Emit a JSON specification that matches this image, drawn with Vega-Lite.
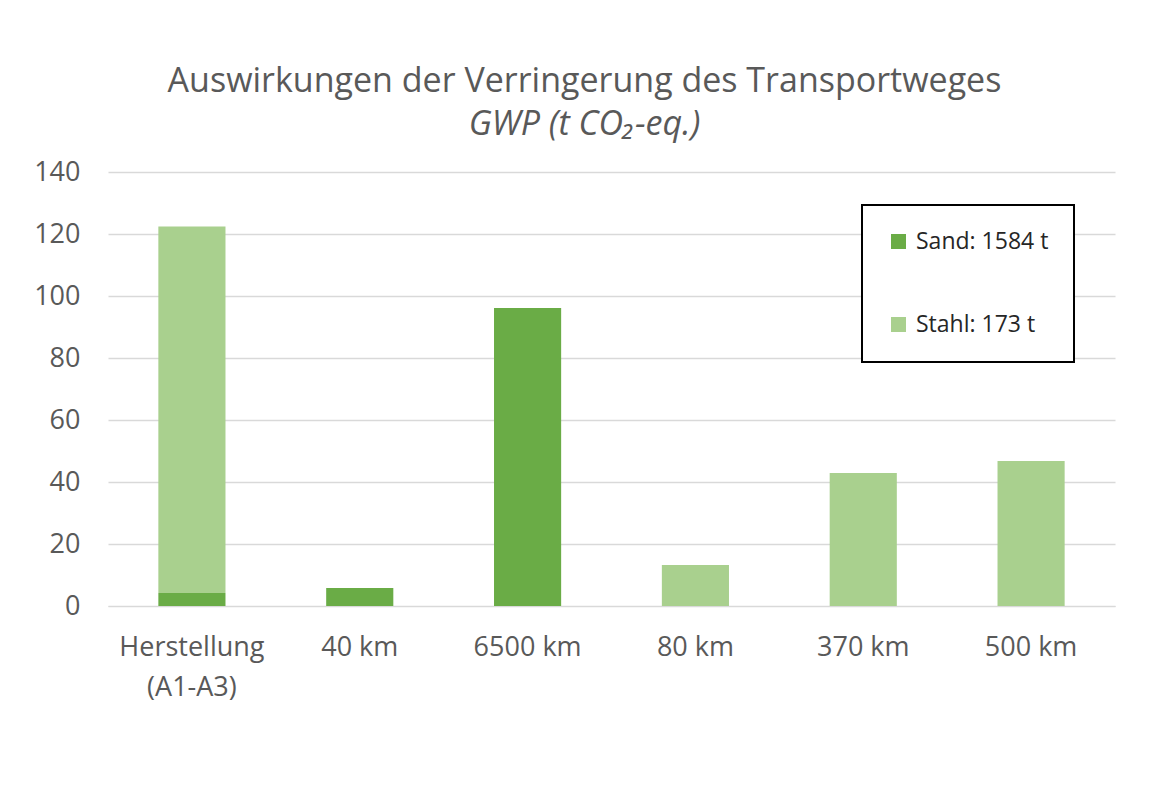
{
  "$schema": "https://vega.github.io/schema/vega-lite/v6.json",
  "autosize": {"type": "none"},
  "width": 1007,
  "height": 434,
  "padding": {"left": 108, "top": 172, "right": 34, "bottom": 192},
  "background": "white",
  "title": {
    "text": "Auswirkungen der Verringerung des Transportweges",
    "subtitle": "GWP (t CO₂-eq.)",
    "anchor": "middle",
    "dx": -27,
    "offset": 16,
    "font": "Open Sans",
    "fontSize": 34,
    "fontWeight": "normal",
    "color": "#595959",
    "subtitleFont": "Open Sans",
    "subtitleFontSize": 34,
    "subtitleFontStyle": "italic",
    "subtitleColor": "#595959",
    "subtitlePadding": 9
  },
  "data": {
    "values": [
      {"kategorie": "Herstellung (A1-A3)", "serie": "Sand: 1584 t", "wert": 4.2},
      {"kategorie": "Herstellung (A1-A3)", "serie": "Stahl: 173 t", "wert": 118.2},
      {"kategorie": "40 km", "serie": "Sand: 1584 t", "wert": 5.8},
      {"kategorie": "6500 km", "serie": "Sand: 1584 t", "wert": 96.1},
      {"kategorie": "80 km", "serie": "Stahl: 173 t", "wert": 13.2},
      {"kategorie": "370 km", "serie": "Stahl: 173 t", "wert": 42.9},
      {"kategorie": "500 km", "serie": "Stahl: 173 t", "wert": 46.8}
    ]
  },
  "mark": {"type": "bar"},
  "encoding": {
    "x": {
      "field": "kategorie",
      "type": "nominal",
      "sort": ["Herstellung (A1-A3)", "40 km", "6500 km", "80 km", "370 km", "500 km"],
      "scale": {"paddingInner": 0.6, "paddingOuter": 0.3},
      "axis": {
        "title": null,
        "labelAngle": 0,
        "labelFont": "Open Sans",
        "labelFontSize": 27,
        "labelColor": "#595959",
        "labelPadding": 28,
        "labelLineHeight": 40,
        "ticks": false,
        "domain": true,
        "domainColor": "#d9d9d9",
        "labelExpr": "datum.label == 'Herstellung (A1-A3)' ? ['Herstellung', '(A1-A3)'] : datum.label"
      }
    },
    "y": {
      "field": "wert",
      "type": "quantitative",
      "stack": "zero",
      "scale": {"domain": [0, 140]},
      "axis": {
        "title": null,
        "values": [0, 20, 40, 60, 80, 100, 120, 140],
        "labelFont": "Open Sans",
        "labelFontSize": 27,
        "labelColor": "#595959",
        "labelPadding": 28,
        "ticks": false,
        "domain": false,
        "grid": true,
        "gridColor": "#d9d9d9",
        "gridWidth": 1.3
      }
    },
    "color": {
      "field": "serie",
      "type": "nominal",
      "scale": {"domain": ["Sand: 1584 t", "Stahl: 173 t"], "range": ["#6aac46", "#a9d08e"]},
      "legend": {
        "title": null,
        "orient": "none",
        "legendX": 754,
        "legendY": 33,
        "direction": "vertical",
        "symbolType": "square",
        "symbolSize": 225,
        "symbolStrokeWidth": 0,
        "labelFont": "Open Sans",
        "labelFontSize": 23,
        "labelColor": "#262626",
        "labelOffset": 6,
        "rowPadding": 59,
        "padding": 25,
        "strokeColor": "#000000",
        "fillColor": "white",
        "encode": {"legend": {"update": {"strokeWidth": {"value": 2}}}}
      }
    },
    "order": {"field": "serie", "sort": "ascending"}
  },
  "config": {"view": {"stroke": null}}
}
